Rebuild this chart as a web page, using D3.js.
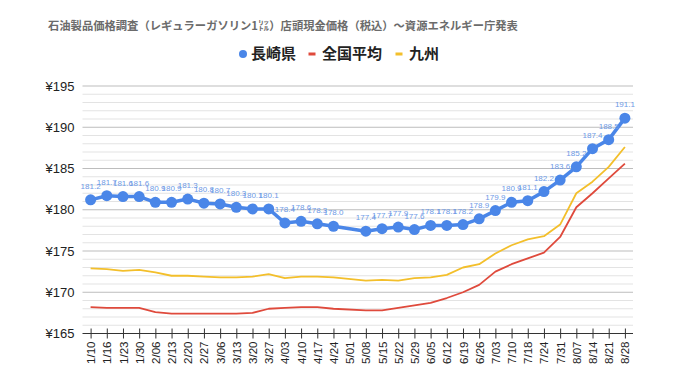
<!DOCTYPE html>
<html><head><meta charset="utf-8">
<script src="https://cdn.jsdelivr.net/npm/d3@7"></script>
<style>
html,body{margin:0;padding:0;background:#fff;}
svg{display:block;}
</style></head>
<body>
<svg id="chart" width="680" height="382"></svg>
<script>
const categories = ["1/10","1/16","1/23","1/30","2/06","2/13","2/20","2/27","3/06","3/13","3/20","3/27","4/03","4/10","4/17","4/24","5/01","5/08","5/15","5/22","5/29","6/05","6/12","6/19","6/26","7/03","7/10","7/18","7/24","7/31","8/07","8/14","8/21","8/28"];
const nagasaki = [181.2,181.7,181.6,181.6,180.9,180.9,181.3,180.8,180.7,180.3,180.1,180.1,178.4,178.6,178.3,178.0,null,177.4,177.7,177.9,177.6,178.1,178.1,178.2,178.9,179.9,180.9,181.1,182.2,183.6,185.2,187.4,188.5,191.1];
const national = [168.2,168.1,168.1,168.1,167.6,167.4,167.4,167.4,167.4,167.4,167.5,168.0,168.1,168.2,168.2,168.0,null,167.8,167.8,168.1,168.4,168.7,169.3,170.0,170.9,172.5,173.4,174.1,174.8,176.7,180.3,182.0,183.8,185.6];
const kyushu = [172.9,172.8,172.6,172.7,172.4,172.0,172.0,171.9,171.8,171.8,171.9,172.2,171.7,171.9,171.9,171.8,null,171.4,171.5,171.4,171.7,171.8,172.1,173.0,173.4,174.7,175.7,176.4,176.8,178.2,182.0,183.4,185.2,187.6];
const yTicks = [165,170,175,180,185,190,195];
const seriesNames = ["長崎県","全国平均","九州"];
const titleText = "石油製品価格調査（レギュラーガソリン1㍑）店頭現金価格（税込）～資源エネルギー庁発表";

(function(){
const colors = {blue:"#4a86e8", red:"#df4a3c", yellow:"#f3bf2b", label:"#6d9ae6"};
const svg = d3.select("#chart");
const pL = 82.5, pR = 633, pT = 86, pB = 333.5;

const x = d3.scalePoint().domain(categories).range([pL, pR]).padding(0.5);
const y = d3.scaleLinear().domain([165,195]).range([pB, pT]);

// minor gridlines
const minor = d3.range(166,195).filter(v => v % 5 !== 0);
svg.append("g").selectAll("line").data(minor).join("line")
  .attr("x1", pL).attr("x2", pR)
  .attr("y1", d => y(d)).attr("y2", d => y(d))
  .attr("stroke", "#e3e3e3").attr("stroke-width", 1);
// major gridlines
svg.append("g").selectAll("line").data(yTicks.filter(v => v !== 165)).join("line")
  .attr("x1", pL).attr("x2", pR)
  .attr("y1", d => y(d)).attr("y2", d => y(d))
  .attr("stroke", "#bdbdbd").attr("stroke-width", 1);

// y axis labels
const yAxis = d3.axisLeft(y).tickValues(yTicks).tickSize(0).tickPadding(8).tickFormat(d => "¥" + d);
const gy = svg.append("g").attr("transform", `translate(${pL},0)`).call(yAxis);
gy.select(".domain").remove();
gy.selectAll("text").attr("font-family", "Arial, 'Liberation Sans', sans-serif").attr("font-size", 13).attr("fill", "#222");

// x axis
const xAxis = d3.axisBottom(x).tickSizeInner(5).tickSizeOuter(0).tickPadding(4);
const gx = svg.append("g").attr("transform", `translate(0,${pB})`).call(xAxis);
gx.select(".domain").attr("stroke", "#333").attr("d", `M${pL},0H${pR}`);
gx.selectAll(".tick line").attr("stroke", "#333").attr("y1", -5).attr("y2", 5);
gx.selectAll(".tick text")
  .attr("font-family", "Arial, 'Liberation Sans', sans-serif").attr("font-size", 11.5).attr("fill", "#222")
  .attr("transform", "rotate(-90)").attr("text-anchor", "end")
  .attr("x", -8).attr("y", 0).attr("dy", "0.35em");

function pts(arr){ return categories.map((c,i) => ({c, v: arr[i]})).filter(d => d.v != null); }
const line = d3.line().x(d => x(d.c)).y(d => y(d.v));

svg.append("path").datum(pts(kyushu)).attr("d", line).attr("fill", "none")
  .attr("stroke", colors.yellow).attr("stroke-width", 1.8).attr("stroke-linejoin", "round");
svg.append("path").datum(pts(national)).attr("d", line).attr("fill", "none")
  .attr("stroke", colors.red).attr("stroke-width", 1.8).attr("stroke-linejoin", "round");
svg.append("path").datum(pts(nagasaki)).attr("d", line).attr("fill", "none")
  .attr("stroke", colors.blue).attr("stroke-width", 3.5).attr("stroke-linejoin", "round");
svg.append("g").selectAll("circle").data(pts(nagasaki)).join("circle")
  .attr("cx", d => x(d.c)).attr("cy", d => y(d.v)).attr("r", 5.5).attr("fill", colors.blue);
svg.append("g").selectAll("text").data(pts(nagasaki)).join("text")
  .attr("x", d => x(d.c)).attr("y", d => y(d.v) - 11)
  .attr("text-anchor", "middle")
  .attr("font-family", "Arial, 'Liberation Sans', sans-serif").attr("font-size", 8)
  .attr("fill", colors.label)
  .text(d => d.v.toFixed(1));

// title
svg.append("text").attr("x", 48).attr("y", 30)
  .attr("font-family", "'Noto Sans CJK JP', sans-serif").attr("font-size", 11.3).attr("font-weight", "bold")
  .attr("fill", "#6b6b6b").text(titleText);

// legend
const lg = svg.append("g").attr("font-family", "'Noto Sans CJK JP', sans-serif").attr("font-size", 15).attr("font-weight", "bold").attr("fill", "#222");
const ly = 54;
lg.append("circle").attr("cx", 243).attr("cy", ly).attr("r", 4).attr("fill", colors.blue);
lg.append("text").attr("x", 251).attr("y", ly).attr("dy", "0.36em").text(seriesNames[0]);
lg.append("rect").attr("x", 308.5).attr("y", ly - 1.5).attr("width", 7).attr("height", 3).attr("fill", colors.red);
lg.append("text").attr("x", 322).attr("y", ly).attr("dy", "0.36em").text(seriesNames[1]);
lg.append("rect").attr("x", 395.5).attr("y", ly - 1.5).attr("width", 7).attr("height", 3).attr("fill", colors.yellow);
lg.append("text").attr("x", 409).attr("y", ly).attr("dy", "0.36em").text(seriesNames[2]);
})();
</script>
</body></html>
